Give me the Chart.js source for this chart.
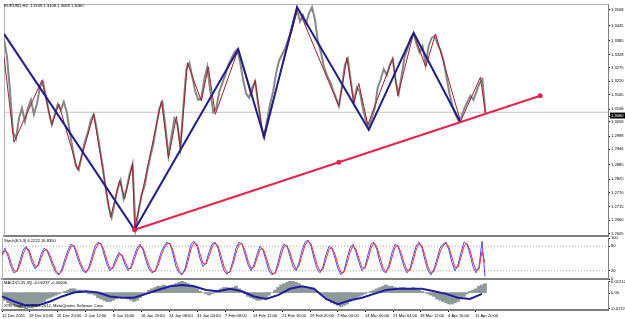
<!DOCTYPE html>
<html><head><meta charset="utf-8">
<script src="https://cdn.jsdelivr.net/npm/chart.js@4.4.0/dist/chart.umd.min.js"></script>
<style>
html,body{margin:0;padding:0;background:#fff;}
#wrap{position:relative;width:625px;height:319px;overflow:hidden;background:#fff;}
canvas{position:absolute;left:0;}
</style></head><body>
<div id="wrap">
<canvas id="c1" width="625" height="240" style="top:0px"></canvas>
<canvas id="c2" width="625" height="60" style="top:230px"></canvas>
<canvas id="c3" width="625" height="47" style="top:272px"></canvas>
</div>
<script>
// ---------- DATA ----------
const STEP = 3; // bars between stored samples
const priceClose = [
1.3364,1.3296,1.3164,1.3004,1.2976,1.3056,1.3096,1.3044,1.3096,1.3128,
1.3072,1.3112,1.3176,1.3200,1.3144,1.3080,1.3032,1.3072,1.3112,1.3088,
1.3120,1.3080,1.3004,1.2936,1.2872,1.2856,1.2912,1.2964,1.3000,1.3048,
1.3072,1.3016,1.2944,1.2872,1.2784,1.2712,1.2672,1.2728,1.2784,1.2816,
1.2744,1.2784,1.2840,1.2880,1.2628,1.2696,1.2760,1.2792,1.2856,1.2912,
1.2960,1.3032,1.3096,1.3120,1.3024,1.2912,1.2984,1.3056,1.3032,1.2944,
1.3104,1.3248,1.3272,1.3216,1.3160,1.3128,1.3136,1.3208,1.3256,1.3160,
1.3080,1.3096,1.3160,1.3192,1.3224,1.3264,1.3288,1.3312,1.3324,1.3272,
1.3204,1.3152,1.3136,1.3176,1.3200,1.3112,1.3032,1.2984,1.3048,1.3112,
1.3160,1.3232,1.3280,1.3304,1.3328,1.3360,1.3392,1.3440,1.3480,1.3432,
1.3456,1.3424,1.3464,1.3488,1.3440,1.3352,1.3312,1.3256,1.3224,1.3200,
1.3168,1.3136,1.3104,1.3176,1.3264,1.3288,1.3200,1.3120,1.3176,1.3160,
1.3096,1.3048,1.3024,1.3056,1.3096,1.3176,1.3208,1.3248,1.3224,1.3264,
1.3288,1.3200,1.3152,1.3224,1.3296,1.3328,1.3368,1.3384,1.3344,1.3312,
1.3336,1.3264,1.3336,1.3368,1.3376,1.3344,1.3320,1.3280,1.3216,1.3152,
1.3104,1.3072,1.3048,1.3064,1.3096,1.3120,1.3144,1.3128,1.3160,1.3192,
1.3208,1.3080];
const redZigBars = [0,10,38,48,55,74,90,107,116,121,129,131,158,165,173,177,184,198,205,212,235,248,252,260,295,336,344,351,356,365,390,395,411,423,433,458,478,483];
const redZigPrices = [1.3296,1.2964,1.3204,1.3032,1.3112,1.2856,1.3072,1.2672,1.2816,1.2744,1.2880,1.2628,1.3124,1.2904,1.3064,1.2936,1.3272,1.3124,1.3256,1.3072,1.3324,1.3144,1.3204,1.2984,1.3484,1.3104,1.3292,1.3116,1.3192,1.3032,1.3288,1.3144,1.3388,1.3256,1.3384,1.3044,1.3216,1.3076];
const blueZigBars = [0,131,235,261,294,366,411,458];
const blueZigPrices = [1.3384,1.2624,1.3324,1.2984,1.3488,1.3012,1.3388,1.3040];
const trendBars = [131,336,538];
const trendPrices = [1.2624,1.2886,1.3144];
const currentPrice = 1.3080;
const priceTicks = [1.3508,1.3445,1.3385,1.3328,1.3275,1.3220,1.3165,1.3108,1.3058,1.2998,1.2946,1.2885,1.2825,1.2770,1.2715,1.2660,1.2605];

const stochMain = [
60,75,55,30,15,20,45,70,80,65,
40,25,35,60,75,70,50,30,15,10,
25,50,70,85,80,55,35,20,15,30,
55,80,90,85,60,35,20,30,50,65,
55,35,20,30,55,75,85,70,45,25,
15,20,40,65,80,90,85,60,30,15,
10,25,55,85,92,80,50,30,40,65,
85,90,75,45,20,12,20,45,75,90,
85,60,35,20,35,60,80,70,45,20,
10,15,40,70,85,80,55,30,20,40,
70,90,95,80,50,25,15,30,60,80,
75,50,25,10,20,50,75,85,65,40,
20,30,60,85,90,70,40,20,15,35,
65,85,80,55,30,15,25,55,80,90,
75,45,20,10,25,50,75,85,90,70,
40,20,35,65,90,85,60,30,15,30,
92,6];
const stochSignal = [
58,69,63,40,21,18,35,60,76,71,
50,31,31,50,69,72,58,38,21,12,
19,40,62,79,82,65,43,26,17,24,
45,70,86,87,70,45,26,26,42,59,
59,43,26,26,45,67,81,76,55,33,
19,18,32,55,74,86,87,70,42,21,
12,19,43,73,89,85,62,38,36,55,
77,88,81,57,30,15,17,35,63,84,
87,70,45,26,29,50,72,74,55,30,
14,13,30,58,79,82,65,40,24,32,
58,82,93,86,62,35,19,24,48,72,
77,60,35,16,16,38,65,81,73,50,
28,26,48,75,88,78,52,28,17,27,
53,77,82,65,40,21,21,43,70,86,
81,57,30,14,19,40,65,81,88,78,
52,28,29,53,80,87,70,42,21,24,
67,40];
const stochLevels = [80,20];
const stochTicks = [100,80,20,0];

const macdHist = [
-0.0044,-0.0066,-0.0088,-0.0099,-0.0110,-0.0121,-0.0132,-0.0132,-0.0143,-0.0132,
-0.0132,-0.0121,-0.0099,-0.0088,-0.0077,-0.0055,-0.0044,-0.0033,-0.0022,-0.0011,
0,0.0011,0.0022,0.0033,0.0033,0.0022,0.0022,0.0011,0,-0.0011,
-0.0011,-0.0022,-0.0044,-0.0055,-0.0066,-0.0077,-0.0077,-0.0066,-0.0055,-0.0033,
-0.0033,-0.0044,-0.0055,-0.0066,-0.0077,-0.0066,-0.0044,-0.0022,0,0.0022,
0.0033,0.0044,0.0055,0.0055,0.0066,0.0055,0.0044,0.0066,0.0077,0.0088,
0.0099,0.0088,0.0077,0.0066,0.0055,0.0033,0.0011,0,-0.0011,-0.0022,
-0.0011,0.0011,0.0022,0.0033,0.0044,0.0044,0.0033,0.0044,0.0055,0.0033,
0.0011,-0.0011,-0.0033,-0.0044,-0.0055,-0.0066,-0.0066,-0.0055,-0.0044,-0.0022,
0,0.0022,0.0044,0.0066,0.0077,0.0088,0.0099,0.0099,0.0088,0.0077,
0.0055,0.0044,0.0033,0.0033,0.0022,0.0011,0,-0.0022,-0.0044,-0.0066,
-0.0088,-0.0099,-0.0110,-0.0121,-0.0110,-0.0099,-0.0077,-0.0066,-0.0044,-0.0033,
-0.0022,-0.0011,0,0.0011,0.0022,0.0033,0.0044,0.0055,0.0066,0.0055,
0.0055,0.0044,0.0033,0.0044,0.0044,0.0033,0.0033,0.0044,0.0033,0.0022,
0.0011,0,-0.0011,-0.0022,-0.0033,-0.0055,-0.0066,-0.0077,-0.0088,-0.0099,
-0.0099,-0.0088,-0.0077,-0.0055,-0.0033,-0.0011,0.0011,0.0022,0.0033,0.0055,
0.0066,0.0077];
const MACD_SIG_STEP = 12;
const macdSignal = [-0.0033,-0.0077,-0.0110,-0.0110,-0.0077,-0.0033,0,0.0011,0,-0.0033,-0.0044,-0.0044,-0.0011,0.0022,0.0055,0.0066,0.0055,0.0022,0.0011,0.0033,0.0011,-0.0033,-0.0055,-0.0022,0.0033,0.0055,0.0033,-0.0055,-0.0099,-0.0066,-0.0044,-0.0011,0.0022,0.0033,0.0033,0.0033,0.0011,-0.0011,-0.0044,-0.0055,-0.0011];
const macdTicks = [0.01212,0,-0.01721];
const macdTickLabels = ['0.01212','0.00','-0.01721'];

const xTickBars = [0,27,55,83,111,139,167,195,223,251,280,308,335,363,391,418,446,473];
const xTickLabels = ['12 Dec 2011','19 Dec 04:00','26 Dec 20:00','2 Jan 12:00','9 Jan 16:00','16 Jan 20:00','24 Jan 08:00','31 Jan 04:00','7 Feb 08:00','14 Feb 12:00','21 Feb 16:00','29 Feb 20:00','7 Mar 00:00','14 Mar 00:00','21 Mar 04:00','28 Mar 12:00','4 Apr 16:00','11 Apr 20:00'];

const headerMain = 'EURUSD,H4  1.3108 1.3108 1.3069 1.3080';
const headerStoch = 'Stoch(8,3,3) 6.2222 16.8350';
const headerMacd = 'MACD(5,35,35) -0.00237 -0.00006';
const footerText = 'XTB Trader, \u00A9 2001-2012, MetaQuotes Software Corp.';

// ---------- HELPERS ----------
const FONT = "'Liberation Sans', Arial, sans-serif";
const FSIZE = 4.1;
Chart.defaults.font.family = FONT;
Chart.defaults.font.size = FSIZE;
Chart.defaults.color = '#000';
const XMIN = 0, XMAX = 606;
const pts = (xs, ys) => ys.map((y, i) => ({x: xs[i], y}));
const stepPts = (arr, step) => arr.map((y, i) => ({x: i * step, y}));
const hline = v => [{x: XMIN, y: v}, {x: XMAX, y: v}];
const fixW = w => s => { s.width = w; s.paddingTop = 0; s.paddingBottom = 0; };
const fixH = h => s => { s.height = h; s.paddingLeft = 0; s.paddingRight = 0; };

const panelText = {
  id: 'panelText',
  afterDraw(chart, args, opts) {
    const ctx = chart.ctx;
    ctx.save();
    ctx.font = FSIZE + 'px ' + FONT;
    ctx.fillStyle = '#000';
    ctx.textBaseline = 'middle';
    ctx.textAlign = 'left';
    (opts.items || []).forEach(it => ctx.fillText(it.text, it.x, it.y));
    ctx.restore();
  }
};

function yAxis(min, max, values, labelFn, extraTicks) {
  return {
    type: 'linear', position: 'right', min, max,
    afterBuildTicks: s => { s.ticks = values.map(v => ({value: v})); },
    afterFit: fixW(17),
    grid: {display: true, drawOnChartArea: false, drawTicks: true, tickLength: 2, tickColor: '#000'},
    border: {display: true, color: '#808080', width: 1},
    ticks: Object.assign({autoSkip: false, padding: 1, callback: labelFn}, extraTicks || {})
  };
}
const hiddenX = (pos, color, width) => ({
  type: 'linear', position: pos, min: XMIN, max: XMAX, offset: false, afterFit: fixH(0),
  ticks: {display: false}, grid: {display: false, offset: false},
  border: {display: true, color, width}
});
const leftFrame = {
  type: 'linear', position: 'left', afterFit: fixW(0),
  ticks: {display: false}, grid: {display: false},
  border: {display: true, color: '#b4b4b4', width: 1}
};
const baseOpts = {
  responsive: false, animation: false, devicePixelRatio: 1,
  elements: {point: {radius: 0}, line: {tension: 0}},
};

// ---------- MAIN PRICE PANEL ----------
const priceVals = priceTicks.concat([currentPrice]);
new Chart(document.getElementById('c1'), {
  type: 'line',
  data: {datasets: [
    {data: hline(currentPrice), borderColor: '#c4c4c4', borderWidth: 1, order: 5},
    {data: stepPts(priceClose, STEP), borderColor: '#878787', borderWidth: 2, order: 4},
    {data: pts(redZigBars, redZigPrices), borderColor: '#a0202c', borderWidth: 1, order: 3},
    {data: pts(blueZigBars, blueZigPrices), borderColor: '#1e1e8c', borderWidth: 2, order: 2},
    {data: pts(trendBars, trendPrices), borderColor: '#e8244c', borderWidth: 2, pointRadius: 2.5,
     pointBackgroundColor: '#e8244c', pointBorderWidth: 0, order: 1}
  ]},
  options: Object.assign({}, baseOpts, {
    layout: {padding: {left: 2, top: 3, right: 0, bottom: 3}},
    plugins: {legend: {display: false}, tooltip: {enabled: false},
      panelText: {items: [{text: headerMain, x: 4, y: 5.5}]}},
    scales: {
      x: hiddenX('bottom', '#808080', 2),
      xt: Object.assign(hiddenX('top', '#b4b4b4', 1), {min: undefined, max: undefined}),
      yl: leftFrame,
      y: yAxis(1.2596, 1.3532, priceVals, v => v.toFixed(4), {
        showLabelBackdrop: true,
        backdropPadding: {top: 1, bottom: 0, left: 1, right: 2},
        backdropColor: c => (c.tick && c.tick.value === currentPrice) ? '#000' : 'rgba(0,0,0,0)',
        color: c => (c.tick && c.tick.value === currentPrice) ? '#fff' : '#000'
      })
    }
  }),
  plugins: [panelText]
});

// ---------- STOCHASTIC PANEL ----------
new Chart(document.getElementById('c2'), {
  type: 'line',
  data: {datasets: [
    {data: hline(stochLevels[0]), borderColor: '#a8a8a8', borderWidth: 1, borderDash: [1, 2], order: 5},
    {data: hline(stochLevels[1]), borderColor: '#a8a8a8', borderWidth: 1, borderDash: [1, 2], order: 5},
    {data: stepPts(stochMain, STEP), borderColor: '#4c4cf0', borderWidth: 1, order: 2},
    {data: stepPts(stochSignal, STEP), borderColor: '#f0303c', borderWidth: 1, order: 1}
  ]},
  options: Object.assign({}, baseOpts, {
    layout: {padding: {left: 2, top: 8, right: 0, bottom: 11}},
    plugins: {legend: {display: false}, tooltip: {enabled: false},
      panelText: {items: [{text: headerStoch, x: 4, y: 11}]}},
    scales: {
      x: hiddenX('bottom', '#808080', 2),
      yl: leftFrame,
      y: yAxis(0, 100, stochTicks, v => String(v))
    }
  }),
  plugins: [panelText]
});

// ---------- MACD PANEL ----------
new Chart(document.getElementById('c3'), {
  type: 'line',
  data: {datasets: [
    {type: 'bar', data: stepPts(macdHist, STEP), backgroundColor: '#8d9999', borderWidth: 0,
     barPercentage: 1, categoryPercentage: 1, order: 2},
    {type: 'line', data: stepPts(macdSignal, MACD_SIG_STEP), borderColor: '#1e1ea0', borderWidth: 2, order: 1}
  ]},
  options: Object.assign({}, baseOpts, {
    layout: {padding: {left: 2, top: 9, right: 0, bottom: 0}},
    plugins: {legend: {display: false}, tooltip: {enabled: false},
      panelText: {items: [{text: headerMacd, x: 4, y: 11}, {text: footerText, x: 4, y: 34}]}},
    scales: {
      x: {
        type: 'linear', position: 'bottom', min: XMIN, max: XMAX, offset: false,
        afterBuildTicks: s => { s.ticks = xTickBars.map(v => ({value: v})); },
        afterFit: fixH(9),
        grid: {display: true, offset: false, drawOnChartArea: false, tickLength: 2, tickColor: '#000'},
        border: {display: true, color: '#808080', width: 2},
        ticks: {autoSkip: false, maxRotation: 0, minRotation: 0, align: 'start', padding: 1,
                callback: (v, i) => xTickLabels[i]}
      },
      yl: leftFrame,
      y: yAxis(-0.0187, 0.0132, macdTicks, (v, i) => macdTickLabels[i])
    }
  }),
  plugins: [panelText]
});
</script>
</body></html>
